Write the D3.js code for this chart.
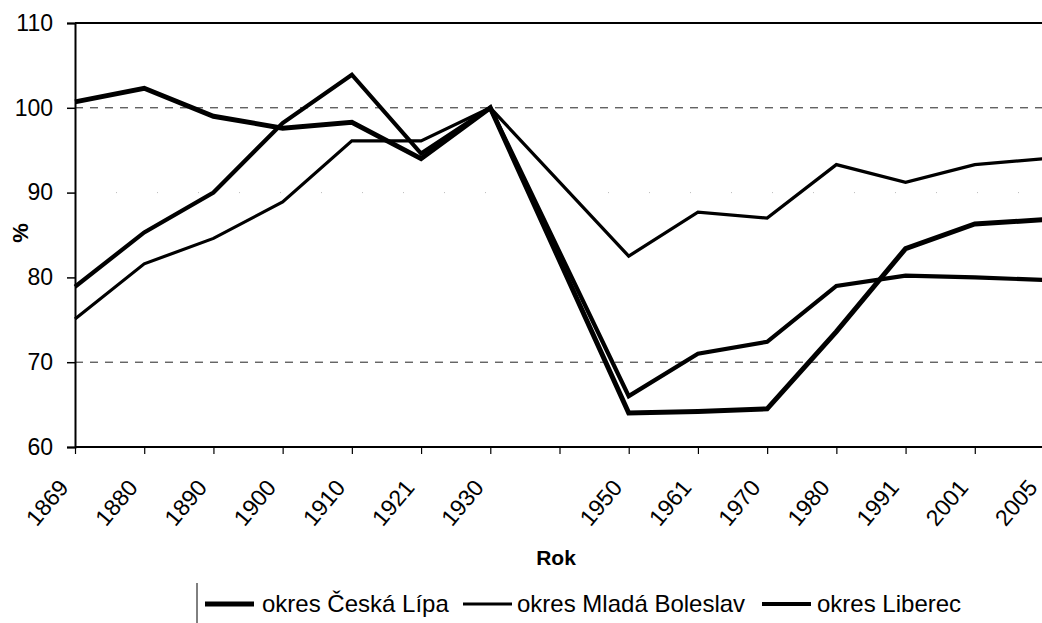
<!DOCTYPE html>
<html>
<head>
<meta charset="utf-8">
<script src="https://cdn.jsdelivr.net/npm/d3@7"></script>
<style>
  html, body { margin: 0; padding: 0; background: #fff; }
  svg { display: block; font-family: "Liberation Sans", Arial, sans-serif; }
</style>
</head>
<body>
<svg id="chart" width="1042" height="623"></svg>
<script>
// categories (an empty slot sits between 1930 and 1950)
const categories = ["1869","1880","1890","1900","1910","1921","1930","","1950","1961","1970","1980","1991","2001","2005"];
const seriesNames = ["okres Česká Lípa", "okres Mladá Boleslav", "okres Liberec"];
const ceskaLipa     = [100.7, 102.3, 99.0, 97.6, 98.3, 94.0, 100, null, 64.0, 64.2, 64.5, 73.6, 83.4, 86.3, 86.8];
const mladaBoleslav = [75.1, 81.6, 84.6, 88.9, 96.1, 96.1, 100, null, 82.5, 87.7, 87.0, 93.3, 91.2, 93.3, 94.0];
const liberec       = [78.9, 85.3, 90.0, 98.2, 103.9, 94.6, 100, null, 66.0, 71.0, 72.4, 79.0, 80.2, 80.0, 79.7];
const yTicks = [60, 70, 80, 90, 100, 110];
const dashedGrid = [70, 100];
const faintGrid = [90];

(function () {
const seriesValues = [ceskaLipa, mladaBoleslav, liberec];
const strokeWidths = [5, 3.2, 4.2];

const svg = d3.select("#chart");
const pLeft = 75, pRight = 1044, pTop = 23, pBottom = 447;

const x = d3.scalePoint().domain(categories).range([pLeft, pRight]);
const y = d3.scaleLinear().domain([60, 110]).range([pBottom, pTop]);

// gridlines
svg.append("g").selectAll("line").data(dashedGrid).join("line")
  .attr("x1", pLeft).attr("x2", 1042)
  .attr("y1", d => y(d)).attr("y2", d => y(d))
  .attr("stroke", "#222").attr("stroke-width", 1)
  .attr("stroke-dasharray", "8,7");
svg.append("g").selectAll("line").data(faintGrid).join("line")
  .attr("x1", pLeft).attr("x2", 1042)
  .attr("y1", d => y(d)).attr("y2", d => y(d))
  .attr("stroke", "#bbb").attr("stroke-width", 1)
  .attr("stroke-dasharray", "1,40");

// top border
svg.append("line").attr("x1", pLeft).attr("x2", 1042)
  .attr("y1", y(110)).attr("y2", y(110))
  .attr("stroke", "#000").attr("stroke-width", 1.8);

// y axis
const yAxis = d3.axisLeft(y).tickValues(yTicks).tickSize(8).tickPadding(14);
const gy = svg.append("g").attr("transform", `translate(${pLeft},0)`).call(yAxis);
gy.select(".domain").attr("stroke", "#000").attr("stroke-width", 2);
gy.selectAll(".tick line").attr("stroke", "#000").attr("stroke-width", 1.5);
gy.selectAll(".tick text").attr("font-size", 23).attr("fill", "#000")
  .attr("font-family", "'Liberation Sans', Arial, sans-serif");

// x axis
const xAxis = d3.axisBottom(x).tickSize(7).tickFormat(d => d);
const gx = svg.append("g").attr("transform", `translate(0,${pBottom})`).call(xAxis);
gx.select(".domain").attr("stroke", "#000").attr("stroke-width", 2).attr("d", `M${pLeft},0H1042`);
gx.selectAll(".tick line").attr("stroke", "#000").attr("stroke-width", 1.2);
gx.selectAll(".tick text")
  .attr("font-size", 23).attr("fill", "#000")
  .attr("font-family", "'Liberation Sans', Arial, sans-serif")
  .attr("text-anchor", "end")
  .attr("dy", "0.35em")
  .attr("transform", "translate(-12,36) rotate(-50)")
  .attr("y", 0);

// lines
const line = d3.line()
  .defined(d => d.v !== null)
  .x(d => x(d.c)).y(d => y(d.v));
seriesValues.forEach((vals, i) => {
  const pts = categories.map((c, j) => ({ c, v: vals[j] })).filter(d => d.v !== null);
  svg.append("path").datum(pts)
    .attr("d", line)
    .attr("fill", "none")
    .attr("stroke", "#000")
    .attr("stroke-width", strokeWidths[i])
    .attr("stroke-linejoin", "miter");
});

// axis titles
svg.append("text").attr("transform", "translate(28,233) rotate(-90)")
  .attr("text-anchor", "middle").attr("font-size", 22).attr("font-weight", "bold")
  .text("%");
svg.append("text").attr("x", 556).attr("y", 565)
  .attr("text-anchor", "middle").attr("font-size", 21).attr("font-weight", "bold")
  .text("Rok");

// legend
const lg = svg.append("g");
lg.append("line").attr("x1", 197).attr("x2", 197).attr("y1", 583).attr("y2", 623)
  .attr("stroke", "#000").attr("stroke-width", 1);
const legendLineX = [205, 463, 762];
const legendTextX = [262, 517, 817];
seriesNames.forEach((name, i) => {
  lg.append("line").attr("x1", legendLineX[i]).attr("x2", legendLineX[i] + 49)
    .attr("y1", 604).attr("y2", 604)
    .attr("stroke", "#000").attr("stroke-width", strokeWidths[i]);
  lg.append("text").attr("x", legendTextX[i]).attr("y", 612)
    .attr("font-size", 24).attr("fill", "#000").text(name);
});
})();
</script>
</body>
</html>
